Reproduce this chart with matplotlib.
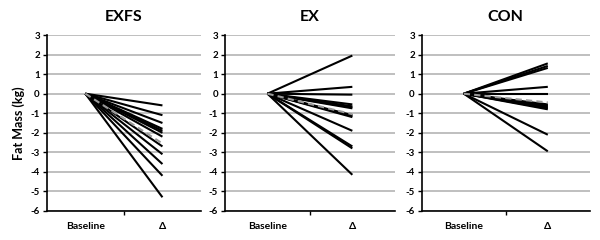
import matplotlib.pyplot as plt

plt.rcParams['font.family'] = ['Lato', 'DejaVu Sans']
plt.rcParams['font.weight'] = 'bold'

# change in fat mass (kg) from baseline, one value per participant
grupos = ['EXFS', 'EX', 'CON']
exfs = [-0.6, -1.1, -1.5, -1.8, -1.9, -2.0, -2.2, -2.7, -3.1, -3.6, -4.2, -5.3]
ex = [1.95, 0.35, -0.05, -0.55, -0.65, -0.7, -0.75, -1.1, -1.15, -1.2, -1.9, -2.7, -2.8, -4.15]
con = [1.55, 1.42, 1.32, 0.35, 0.0, -0.55, -0.6, -0.65, -0.7, -0.75, -0.8, -2.1, -2.95]
medias = [-2.55, -1.05, -0.45]
categorias = ['Baseline', 'Δ']
yticks = list(range(-6, 4))

fig = plt.figure(figsize=(6, 2.4), dpi=100)
posicoes = [[0.078, 0.121, 0.257, 0.733],
            [0.375, 0.121, 0.283, 0.733],
            [0.703, 0.121, 0.280, 0.733]]

for i, (nome, valores) in enumerate(zip(grupos, [exfs, ex, con])):
    ax = fig.add_axes(posicoes[i])
    ax.set_xlim(-0.5, 1.5)
    ax.set_ylim(-6, 3)
    ax.set_yticks(yticks)
    ax.set_yticklabels([str(t) for t in yticks], fontsize=7, fontweight='bold')
    ax.set_xticks([0, 1])
    ax.set_xticklabels(categorias, fontsize=7.5, fontweight='bold')
    ax.tick_params(axis='x', length=0, pad=8)
    ax.set_xticks([0.5], minor=True)
    ax.tick_params(axis='x', which='minor', length=3, width=1, direction='out')
    ax.tick_params(axis='y', length=3, width=1, pad=2)
    ax.grid(axis='y', color='#b4b4b4', linewidth=1.2)
    ax.set_axisbelow(True)
    for lado in ['top', 'right']:
        ax.spines[lado].set_visible(False)
    for lado in ['left', 'bottom']:
        ax.spines[lado].set_color('black')
        ax.spines[lado].set_linewidth(1.2)

    for v in valores:
        ax.plot([0, 1], [0, v], color='black', linewidth=1.5, solid_capstyle='butt')
    ax.plot([0, 1], [0, medias[i]], color='#9a9a9a', linewidth=1.5, linestyle=(0, (3, 2)))

    ax.set_title(nome, fontsize=11.5, fontweight='bold', pad=10)
    if i == 0:
        ax.set_ylabel('Fat Mass (kg)', fontsize=9, fontweight='bold', labelpad=4)

fig.savefig('out.png', dpi=100)
